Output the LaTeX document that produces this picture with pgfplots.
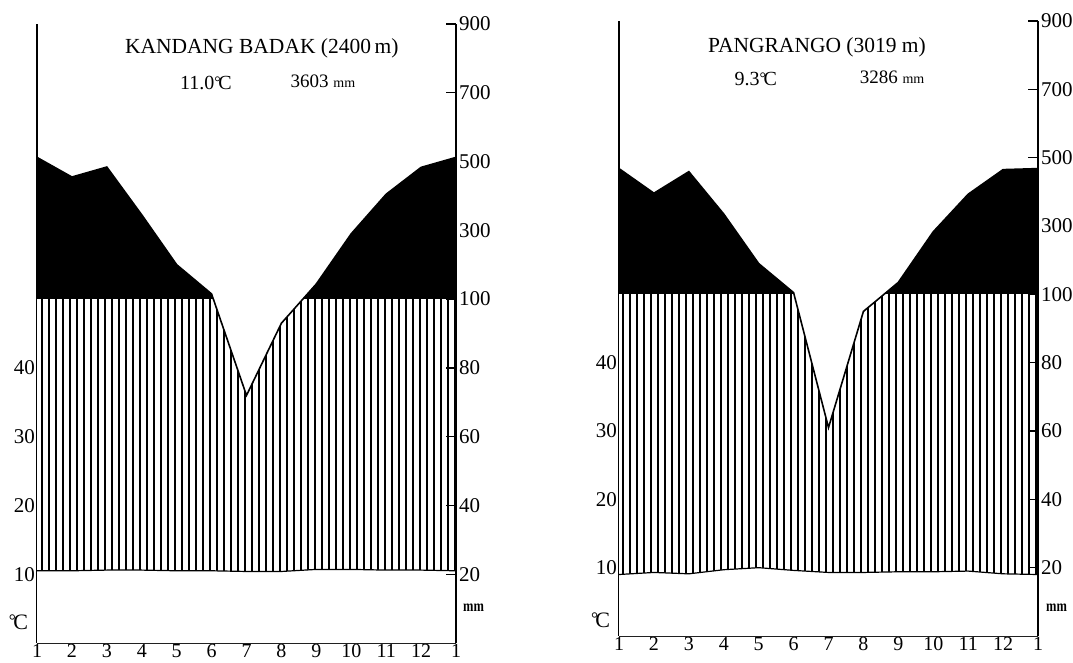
\documentclass[border=0pt]{standalone}
\usepackage{fontspec}
\setmainfont{Liberation Serif}
\usepackage{pgfplots}
\usepackage{pgfplotstable}
\pgfplotsset{compat=1.18}
\usetikzlibrary{patterns.meta}

% degree Celsius set as one compact sign
\newcommand{\degC}{{\raisebox{0.12em}{\scalebox{0.8}{°}}\kern-0.12em C}}
% narrow bold unit label beside the precipitation axis
\newcommand{\mmunit}{\scalebox{0.78}[1]{\bfseries mm}}

% Monthly means: T in degC, P in mm (month 13 repeats January)
\pgfplotstableread{
m   T     P
1   10.5  512
2   10.5  455
3   10.6  484
4   10.6  345
5   10.5  200
6   10.5  115
7   10.4  72
8   10.4  93
9   10.7  144
10  10.7  290
11  10.6  405
12  10.6  483
13  10.5  512
}\kandang

\pgfplotstableread{
m   T     P
1   9.0   468
2   9.3   396
3   9.1   459
4   9.7   335
5   10.0  190
6   9.6   105
7   9.3   61
8   9.3   95
9   9.4   135
10  9.4   283
11  9.5   393
12  9.1   465
13  9.0   468
}\pangrango

% Walter--Lieth scale: 10 degC = 20 mm, above 100 mm compressed by 1/10
\newcommand{\mmscale}{\thisrow{P}>100 ? 50+(\thisrow{P}-100)/20 : \thisrow{P}/2}

\pgfplotsset{
  climate/.style={
    scale only axis, width=419pt,
    xmin=1, xmax=13, ymin=0, ymax=90,
    axis x line*=bottom, axis y line*=left,
    axis line style={line width=1.3pt, -},
    xtick={1,...,13}, xticklabels={1,2,3,4,5,6,7,8,9,10,11,12,1},
    ytick={10,20,30,40},
    tick align=inside, major tick length=10pt,
    every tick/.style={line width=1.3pt, black},
    xticklabel style={font=\fontsize{20}{20}\selectfont, inner sep=0.5pt,
      anchor=north, text height=13.5pt, text depth=0pt},
    yticklabel style={font=\fontsize{21}{21}\selectfont, inner sep=2pt},
    /pgf/number format/assume math mode=true,
    clip=false,
  },
  mmaxis/.style={
    scale only axis, width=419pt,
    xmin=1, xmax=13, ymin=0, ymax=90,
    axis x line=none, axis y line*=right,
    axis line style={line width=1.3pt, -},
    ytick={10,20,...,90},
    yticklabels={20,40,60,80,100,300,500,700,900},
    tick align=inside, major tick length=10pt,
    every tick/.style={line width=1.3pt, black},
    yticklabel style={font=\fontsize{21}{21}\selectfont, inner sep=3pt},
    /pgf/number format/assume math mode=true,
  },
  hatch/.style={draw=none, pattern={Lines[angle=90, distance=7pt, line width=1.1pt]}},
}

% Layered diagram: black surplus above 100 mm, hatched humid season, white below T
\newcommand{\diagram}[1]{%
  \addplot[fill=black, draw=none] table[x=m, y expr={\mmscale}] {#1} \closedcycle;
  \fill[white] (axis cs:1,0) rectangle (axis cs:13,50);
  \addplot[hatch] table[x=m, y expr={\mmscale}] {#1} \closedcycle;
  \addplot[fill=white, draw=none] table[x=m, y=T] {#1} \closedcycle;
  \addplot[black, line width=1.6pt] table[x=m, y expr={\mmscale}] {#1};
  \addplot[black, line width=1.2pt] table[x=m, y=T] {#1};
}

\begin{document}
\begin{tikzpicture}[x=1pt, y=1pt]
\useasboundingbox (0,0) rectangle (1073,662);

% ---------- KANDANG BADAK ----------
\begin{axis}[climate, at={(37pt,19pt)}, height=619pt]
  \diagram{\kandang}
  \node[font=\fontsize{21.5}{22}\selectfont] at (axis cs:7.44,86.4) {KANDANG BADAK (2400\,m)};
  \node[font=\fontsize{20}{20}\selectfont] at (axis cs:5.84,81.4) {11.0\degC};
  \node[font=\fontsize{19}{20}\selectfont] at (axis cs:9.19,81.6) {3603 {\fontsize{14}{14}\selectfont mm}};
  \node[anchor=east, font=\fontsize{22}{22}\selectfont, inner sep=0pt] at (axis cs:0.75,3) {\degC};
  \node[anchor=west, font=\fontsize{16}{16}\selectfont, inner sep=0pt] at (axis cs:13.2,5.2) {\mmunit};
\end{axis}
\begin{axis}[mmaxis, at={(37pt,19pt)}, height=619pt]
  \addplot[draw=none] coordinates {(1,0) (13,90)};
\end{axis}

% ---------- PANGRANGO ----------
\begin{axis}[climate, at={(619pt,26pt)}, height=615pt]
  \diagram{\pangrango}
  \node[font=\fontsize{21.5}{22}\selectfont] at (axis cs:6.67,86.1) {PANGRANGO (3019 m)};
  \node[font=\fontsize{20}{20}\selectfont] at (axis cs:4.92,81.5) {9.3\degC};
  \node[font=\fontsize{19}{20}\selectfont] at (axis cs:8.82,81.7) {3286 {\fontsize{14}{14}\selectfont mm}};
  \node[anchor=east, font=\fontsize{22}{22}\selectfont, inner sep=0pt] at (axis cs:0.75,2.3) {\degC};
  \node[anchor=west, font=\fontsize{16}{16}\selectfont, inner sep=0pt] at (axis cs:13.23,4.1) {\mmunit};
\end{axis}
\begin{axis}[mmaxis, at={(619pt,26pt)}, height=615pt]
  \addplot[draw=none] coordinates {(1,0) (13,90)};
\end{axis}
\end{tikzpicture}
\end{document}
